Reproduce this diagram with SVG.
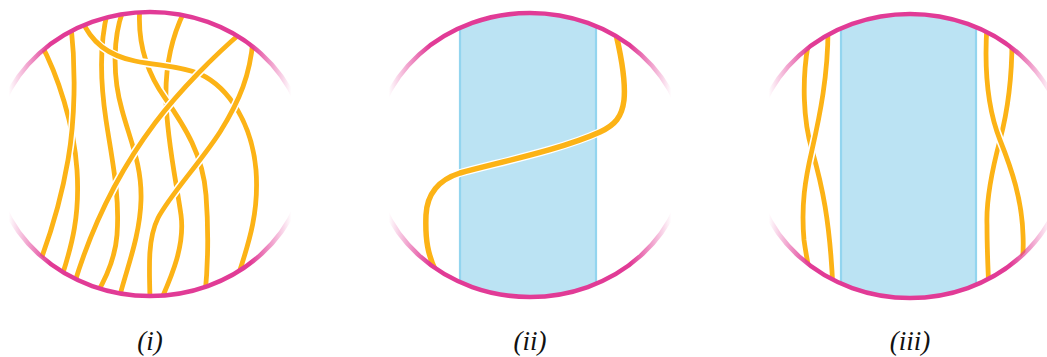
<svg xmlns="http://www.w3.org/2000/svg" width="1047" height="357" viewBox="0 0 1047 357">
<style>
.rim{fill:none;stroke:url(#fade);stroke-width:4.5}
.case{fill:none;stroke:#ffffff;stroke-width:8;stroke-linecap:butt}
.str{fill:none;stroke:#fcb316;stroke-width:4.8;stroke-linecap:butt}
.str2{fill:none;stroke:#fcb316;stroke-width:5.5}
.case2{fill:none;stroke:#ffffff;stroke-width:8}
.strip{fill:#bbe3f3}
.edge{fill:none;stroke:#93d5ef;stroke-width:2.2}
.lbl{font-family:"Liberation Serif","DejaVu Serif",serif;font-style:italic;font-size:27px;fill:#111;text-anchor:middle}
</style>
<defs>
<linearGradient id="fade" x1="0" y1="0" x2="1" y2="0">
<stop offset="0" stop-color="#e13b96" stop-opacity="0"/>
<stop offset="0.05" stop-color="#e13b96" stop-opacity="0"/>
<stop offset="0.18" stop-color="#e13b96" stop-opacity="1"/>
<stop offset="0.82" stop-color="#e13b96" stop-opacity="1"/>
<stop offset="0.95" stop-color="#e13b96" stop-opacity="0"/>
<stop offset="1" stop-color="#e13b96" stop-opacity="0"/>
</linearGradient>
<clipPath id="c1"><ellipse cx="150" cy="154" rx="157" ry="142"/></clipPath>
<clipPath id="c2"><ellipse cx="530" cy="155" rx="157" ry="142"/></clipPath>
<clipPath id="c3"><ellipse cx="910" cy="156" rx="157" ry="142"/></clipPath>
</defs>

<g id="panel1">
<g clip-path="url(#c1)">
<path class="case" d="M40,42 C58,75 74,125 77,170 C80,215 72,245 62,276"/>
<path class="str" d="M40,42 C58,75 74,125 77,170 C80,215 72,245 62,276"/>
<path class="case" d="M71,25 C76,70 75,120 68,160 C62,195 52,230 40,262"/>
<path class="str" d="M71,25 C76,70 75,120 68,160 C62,195 52,230 40,262"/>
<path class="case" d="M108,10 C100,40 100,80 106,120 C112,160 120,195 117,235 C115,260 105,280 96,295"/>
<path class="str" d="M108,10 C100,40 100,80 106,120 C112,160 120,195 117,235 C115,260 105,280 96,295"/>
<path class="case" d="M124,8 C113,35 112,75 122,110 C130,140 142,165 141,200 C140,235 128,265 120,295"/>
<path class="str" d="M124,8 C113,35 112,75 122,110 C130,140 142,165 141,200 C140,235 128,265 120,295"/>
<path class="case" d="M186,8 C172,35 165,65 166,100 C167,140 176,180 181,215 C185,245 172,275 162,298"/>
<path class="str" d="M186,8 C172,35 165,65 166,100 C167,140 176,180 181,215 C185,245 172,275 162,298"/>
<path class="case" d="M140,6 C137,40 145,70 165,98 C185,127 203,155 206,195 C209,235 208,265 205,295"/>
<path class="str" d="M140,6 C137,40 145,70 165,98 C185,127 203,155 206,195 C209,235 208,265 205,295"/>
<path class="case" d="M82,20 C90,40 105,55 135,61 C160,66 180,66 200,74 C230,88 252,125 256,170 C259,210 250,240 238,276"/>
<path class="str" d="M82,20 C90,40 105,55 135,61 C160,66 180,66 200,74 C230,88 252,125 256,170 C259,210 250,240 238,276"/>
<path class="case" d="M253,40 C250,75 240,100 220,132 C200,163 170,195 158,218 C148,238 149,265 150,298"/>
<path class="str" d="M253,40 C250,75 240,100 220,132 C200,163 170,195 158,218 C148,238 149,265 150,298"/>
<path class="case" d="M242,32 C215,55 180,90 155,123 C125,163 95,215 74,285"/>
<path class="str" d="M242,32 C215,55 180,90 155,123 C125,163 95,215 74,285"/>
</g>
<ellipse class="rim" cx="150" cy="154" rx="157" ry="142"/>
<text class="lbl" x="150" y="350">(i)</text>
</g>

<g id="panel2">
<g clip-path="url(#c2)">
<rect class="strip" x="459" y="0" width="138" height="310"/>
<line class="edge" x1="460" y1="0" x2="460" y2="310"/>
<line class="edge" x1="596" y1="0" x2="596" y2="310"/>
<path class="case2" d="M614,26 C620,50 626,80 624,100 C622,117 615,125 600,132 C560,150 500,162 460,173 C438,180 427,195 426,215 C425,240 428,255 436,272"/>
<path class="str2" d="M614,26 C620,50 626,80 624,100 C622,117 615,125 600,132 C560,150 500,162 460,173 C438,180 427,195 426,215 C425,240 428,255 436,272"/>
</g>
<ellipse class="rim" cx="530" cy="155" rx="157" ry="142"/>
<text class="lbl" x="530" y="350">(ii)</text>
</g>

<g id="panel3">
<g clip-path="url(#c3)">
<rect class="strip" x="840" y="0" width="137" height="310"/>
<line class="edge" x1="841" y1="0" x2="841" y2="310"/>
<line class="edge" x1="976" y1="0" x2="976" y2="310"/>
<path class="case" d="M808,45 C802,80 803,120 812,150 C822,185 830,220 833,290"/>
<path class="str" d="M808,45 C802,80 803,120 812,150 C822,185 830,220 833,290"/>
<path class="case" d="M828,30 C828,75 820,115 812,150 C805,180 801,205 804,240 C806,255 808,265 812,285"/>
<path class="str" d="M828,30 C828,75 820,115 812,150 C805,180 801,205 804,240 C806,255 808,265 812,285"/>
<path class="case" d="M1012,40 C1012,80 1008,110 1000,140 C992,170 986,200 987,225 C987,250 988,270 989,292"/>
<path class="str" d="M1012,40 C1012,80 1008,110 1000,140 C992,170 986,200 987,225 C987,250 988,270 989,292"/>
<path class="case" d="M987,25 C984,70 988,110 1000,140 C1012,170 1022,200 1023,235 C1024,255 1022,265 1021,280"/>
<path class="str" d="M987,25 C984,70 988,110 1000,140 C1012,170 1022,200 1023,235 C1024,255 1022,265 1021,280"/>
</g>
<ellipse class="rim" cx="910" cy="156" rx="157" ry="142"/>
<text class="lbl" x="910" y="350">(iii)</text>
</g>
</svg>
